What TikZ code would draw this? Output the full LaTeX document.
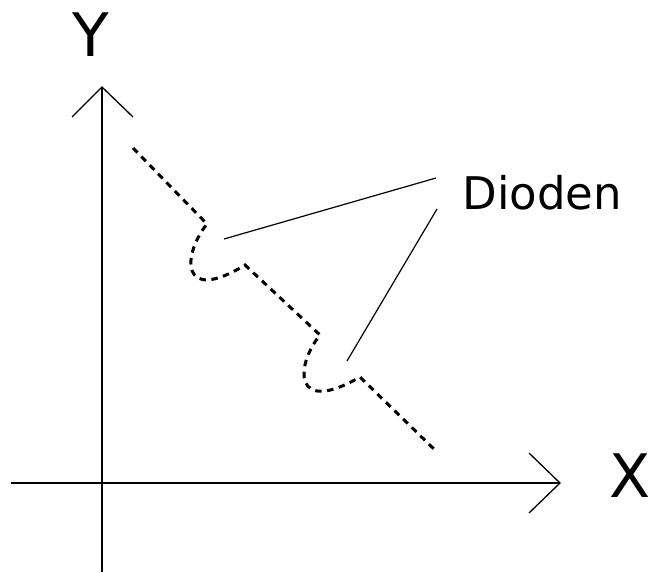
\documentclass[tikz,border=0pt]{standalone}
\usepackage{fontspec}
\setmainfont{DejaVu Sans}
\usetikzlibrary{calc}
\begin{document}
\begin{tikzpicture}[x=1pt,y=-1pt,
  axis/.style={line width=1.3pt,black},
  pointer/.style={line width=1.2pt,black},
  diodecurve/.style={line width=3pt,black,dash pattern=on 6.5pt off 5.5pt},
  lbl/.style={inner sep=0pt,anchor=base,font=\fontsize{60}{60}\selectfont},
  dlbl/.style={inner sep=0pt,anchor=base west,font=\fontsize{45}{45}\selectfont}]
\useasboundingbox (0,0) rectangle (652,572);
% axes
\coordinate (yb) at (102,572);
\coordinate (yt) at (102,87);
\coordinate (xl) at (11,483);
\coordinate (xr) at (560,483);
\draw[axis] (yb) -- (yt);
\draw[axis] (xl) -- (xr);
\draw[axis] ($(yt)+(-30,30)$) -- (yt) -- ($(yt)+(31,30)$);
\draw[axis] ($(xr)+(-31,-30)$) -- (xr) -- ($(xr)+(-31,30)$);
% labels
\node[lbl] (ylab) at (90.5,57) {Y};
\node[lbl] (xlab) at (630,497) {X};
\node[dlbl] (dlab) at (462.5,209) {Dioden};
% dashed curve
\coordinate (s) at (133,148);
\coordinate (a) at (207,224);
\coordinate (a2) at (245,265);
\coordinate (b) at (320,335);
\coordinate (b2) at (360,377);
\coordinate (e) at (437,452);
\draw[diodecurve] (s) -- (a) .. controls (182,255) and (180,305) .. (a2) -- (b)
  .. controls (295,366) and (293,416) .. (b2) -- (e);
% pointers
\coordinate (p1) at (436,178);
\coordinate (p2) at (437,209);
\coordinate (q1) at (224,239);
\coordinate (q2) at (347,361);
\draw[pointer] (p1) -- (q1);
\draw[pointer] (p2) -- (q2);
\end{tikzpicture}
\end{document}
